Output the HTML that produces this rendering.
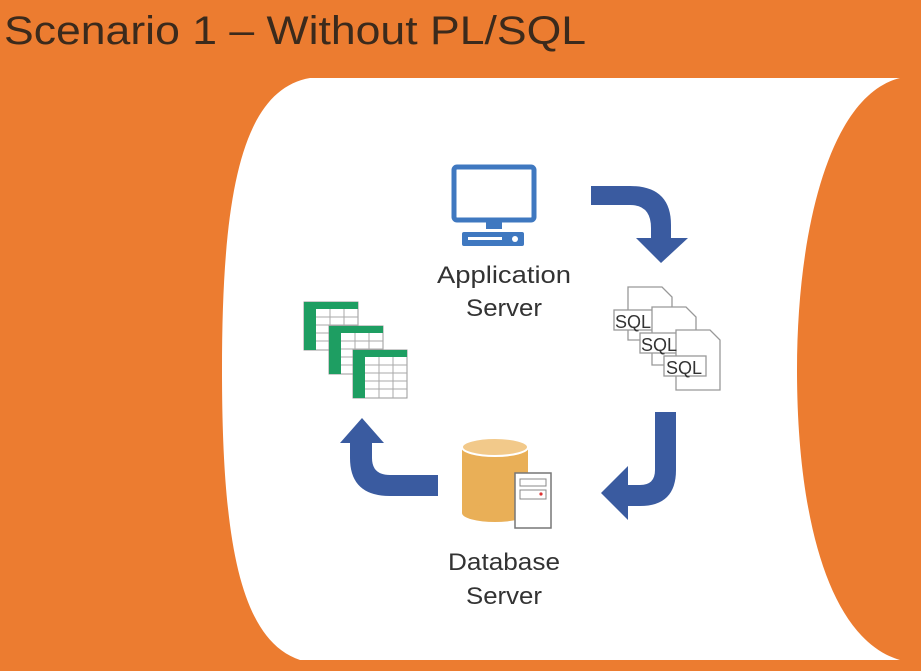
<!DOCTYPE html>
<html><head><meta charset="utf-8"><style>
html,body{margin:0;padding:0;width:921px;height:671px;overflow:hidden;background:#EC7C30}
svg{display:block}
</style></head><body>
<svg width="921" height="671" viewBox="0 0 921 671" xmlns="http://www.w3.org/2000/svg" font-family="Liberation Sans, sans-serif">
<rect width="921" height="671" fill="#EC7C30"/>
<text x="4" y="44" font-size="40" fill="#3b2a1c" textLength="582" lengthAdjust="spacingAndGlyphs">Scenario 1 – Without PL/SQL</text>
<path d="M310 78 L900 78 C830 95 797 230 797 370 C797 520 830 640 900 660 L300 660 C240 640 222 540 222 370 C222 200 240 90 310 78 Z" fill="#fff"/>
<!-- monitor -->
<rect x="454" y="167" width="80" height="53" rx="3" fill="none" stroke="#3F78C0" stroke-width="5"/>
<rect x="486" y="220" width="16" height="9" fill="#3F78C0"/>
<rect x="462" y="232" width="62" height="14" rx="2" fill="#3F78C0"/>
<rect x="468" y="237" width="34" height="3" fill="#fff"/>
<circle cx="515" cy="239" r="3" fill="#fff"/>
<text x="504" y="283" font-size="24" text-anchor="middle" fill="#333" textLength="134" lengthAdjust="spacingAndGlyphs">Application</text>
<text x="504" y="316" font-size="24" text-anchor="middle" fill="#333" textLength="76" lengthAdjust="spacingAndGlyphs">Server</text>
<!-- arrow 1 -->
<path d="M591 186 L630 186 Q671 186 671 225 L671 238 L688 238 L661 263 L636 238 L651 238 L651 228 Q651 205 630 205 L591 205 Z" fill="#3A5BA0"/>
<!-- SQL docs -->
<g fill="#fff" stroke="#999" stroke-width="1.3">
<path d="M628 287 L662 287 L672 297 L672 340 L628 340 Z"/>
<rect x="614" y="310" width="40" height="20"/>
<path d="M652 307 L686 307 L696 317 L696 365 L652 365 Z"/>
<rect x="640" y="333" width="40" height="20"/>
<path d="M676 330 L710 330 L720 340 L720 390 L676 390 Z"/>
<rect x="664" y="356" width="42" height="20"/>
</g>
<g font-size="18" fill="#333">
<text x="615" y="328">SQL</text><text x="641" y="351">SQL</text><text x="666" y="374">SQL</text>
</g>
<!-- arrow 2 -->
<path d="M655 412 L676 412 L676 470 Q676 506 640 506 L628 506 L628 520 L601 493 L628 466 L628 485 L640 485 Q655 485 655 470 Z" fill="#3A5BA0"/>
<!-- database -->
<rect x="462" y="447" width="66" height="66" fill="#E9AF57"/>
<ellipse cx="495" cy="513" rx="33" ry="9" fill="#E9AF57"/>
<ellipse cx="495" cy="447" rx="33" ry="9" fill="#F2C98A" stroke="#fff" stroke-width="2"/>
<rect x="515" y="473" width="36" height="55" fill="#fff" stroke="#777" stroke-width="1.5"/>
<rect x="520" y="479" width="26" height="7" fill="none" stroke="#888"/>
<rect x="520" y="490" width="26" height="9" fill="none" stroke="#888"/>
<circle cx="541" cy="494" r="1.6" fill="#d33"/>
<text x="504" y="570" font-size="24" text-anchor="middle" fill="#333" textLength="112" lengthAdjust="spacingAndGlyphs">Database</text>
<text x="504" y="604" font-size="24" text-anchor="middle" fill="#333" textLength="76" lengthAdjust="spacingAndGlyphs">Server</text>
<!-- arrow 3 -->
<path d="M438 475 L438 496 L390 496 Q350 496 350 458 L350 443 L340 443 L362 418 L384 443 L372 443 L372 458 Q372 475 390 475 Z" fill="#3A5BA0"/>
<!-- spreadsheets -->
<g>
<g transform="translate(304,302)"><rect width="54" height="48" fill="#fff" stroke="#999"/><rect width="12" height="48" fill="#1E9E62"/><rect width="54" height="7" fill="#1E9E62"/><path d="M12 15H54M12 23H54M12 31H54M12 39H54M26 7V48M40 7V48" stroke="#aaa"/></g>
<g transform="translate(329,326)"><rect width="54" height="48" fill="#fff" stroke="#999"/><rect width="12" height="48" fill="#1E9E62"/><rect width="54" height="7" fill="#1E9E62"/><path d="M12 15H54M12 23H54M12 31H54M12 39H54M26 7V48M40 7V48" stroke="#aaa"/></g>
<g transform="translate(353,350)"><rect width="54" height="48" fill="#fff" stroke="#999"/><rect width="12" height="48" fill="#1E9E62"/><rect width="54" height="7" fill="#1E9E62"/><path d="M12 15H54M12 23H54M12 31H54M12 39H54M26 7V48M40 7V48" stroke="#aaa"/></g>
</g>
</svg>
</body></html>
